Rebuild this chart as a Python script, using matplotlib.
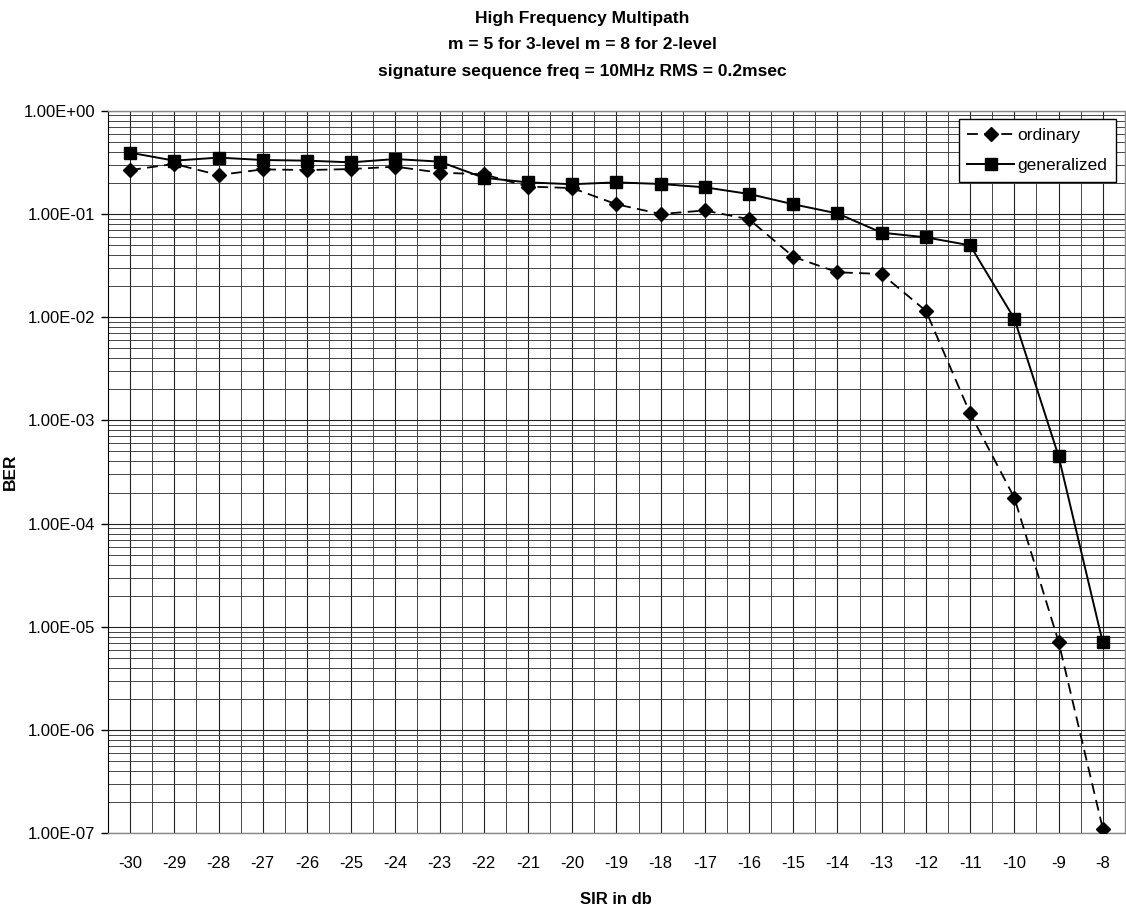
import numpy as np
import matplotlib
matplotlib.use('Agg')
import matplotlib.pyplot as plt
from matplotlib.ticker import FixedLocator, LogLocator, NullFormatter

plt.rcParams['font.family'] = ['Liberation Sans', 'DejaVu Sans']

# SIR in db (categories)
sir = [-30, -29, -28, -27, -26, -25, -24, -23, -22, -21, -20, -19,
       -18, -17, -16, -15, -14, -13, -12, -11, -10, -9, -8]

ordinary = [0.266, 0.305, 0.238, 0.270, 0.266, 0.272, 0.287, 0.251, 0.242,
            0.184, 0.178, 0.124, 0.0998, 0.108, 0.0887, 0.0385, 0.0272,
            0.0262, 0.0115, 0.00117, 1.78e-4, 7.16e-6, 1.11e-7]

generalized = [0.392, 0.328, 0.351, 0.333, 0.328, 0.316, 0.340, 0.321, 0.224,
               0.202, 0.194, 0.202, 0.195, 0.181, 0.156, 0.124, 0.101,
               0.0658, 0.0593, 0.0496, 0.00966, 4.51e-4, 7.06e-6]

ytick_vals = [1e0, 1e-1, 1e-2, 1e-3, 1e-4, 1e-5, 1e-6, 1e-7]
ytick_labels = ['1.00E+00', '1.00E-01', '1.00E-02', '1.00E-03',
                '1.00E-04', '1.00E-05', '1.00E-06', '1.00E-07']

title_lines = ['High Frequency Multipath',
               'm = 5 for 3-level m = 8 for 2-level',
               'signature sequence freq = 10MHz RMS = 0.2msec']

fig = plt.figure(figsize=(11.26, 9.11), dpi=100)
ax = fig.add_axes([0.0959, 0.0853, 0.9031, 0.7932])

ax.plot(sir, ordinary, color='black', lw=1.3, ls=(0, (6, 3.5)),
        marker='D', ms=7, label='ordinary', zorder=3)
ax.plot(sir, generalized, color='black', lw=1.4, ls='-',
        marker='s', ms=9, label='generalized', zorder=3)

ax.set_yscale('log')
ax.set_ylim(1e-7, 1)
ax.set_xlim(sir[0] - 0.5, sir[-1] + 0.5)

ax.set_yticks(ytick_vals)
ax.set_yticklabels(ytick_labels)
ax.yaxis.set_minor_locator(LogLocator(base=10, subs=np.arange(2, 10)))
ax.yaxis.set_minor_formatter(NullFormatter())

ax.set_xticks(sir)
ax.set_xticklabels([str(s) for s in sir])
ax.xaxis.set_minor_locator(FixedLocator(np.arange(sir[0] - 0.5, sir[-1] + 1, 1.0)))

ax.grid(True, which='major', axis='both', color='#222222', lw=0.8)
ax.grid(True, which='minor', axis='both', color='#444444', lw=0.7)
ax.set_axisbelow(True)

ax.tick_params(axis='x', which='both', length=0, pad=16, labelsize=12)
ax.tick_params(axis='y', which='major', length=5, width=1, pad=4, labelsize=12)
ax.tick_params(axis='y', which='minor', length=0)

for s in ['top', 'right', 'bottom']:
    ax.spines[s].set_color('#888888')
    ax.spines[s].set_linewidth(1.0)
ax.spines['left'].set_color('black')

ax.set_xlabel('SIR in db', fontsize=12, fontweight='bold')
ax.xaxis.set_label_coords(0.5, -0.081)
ax.set_ylabel('BER', fontsize=12.5, fontweight='bold')
ax.yaxis.set_label_coords(-0.089, 0.5)

fig.text(0.517, 0.980, title_lines[0], ha='center', va='center', fontsize=12.5, fontweight='bold')
fig.text(0.517, 0.951, title_lines[1], ha='center', va='center', fontsize=12.5, fontweight='bold')
fig.text(0.517, 0.922, title_lines[2], ha='center', va='center', fontsize=12.5, fontweight='bold')

leg = ax.legend(loc='upper right', fontsize=12.5, frameon=True, fancybox=False,
                borderaxespad=0.5, handlelength=2.7, handletextpad=0.2,
                borderpad=0.5, labelspacing=0.85)
leg.get_frame().set_edgecolor('black')
leg.get_frame().set_linewidth(1.0)
leg.get_frame().set_alpha(1)

fig.savefig('out.png', dpi=100)
